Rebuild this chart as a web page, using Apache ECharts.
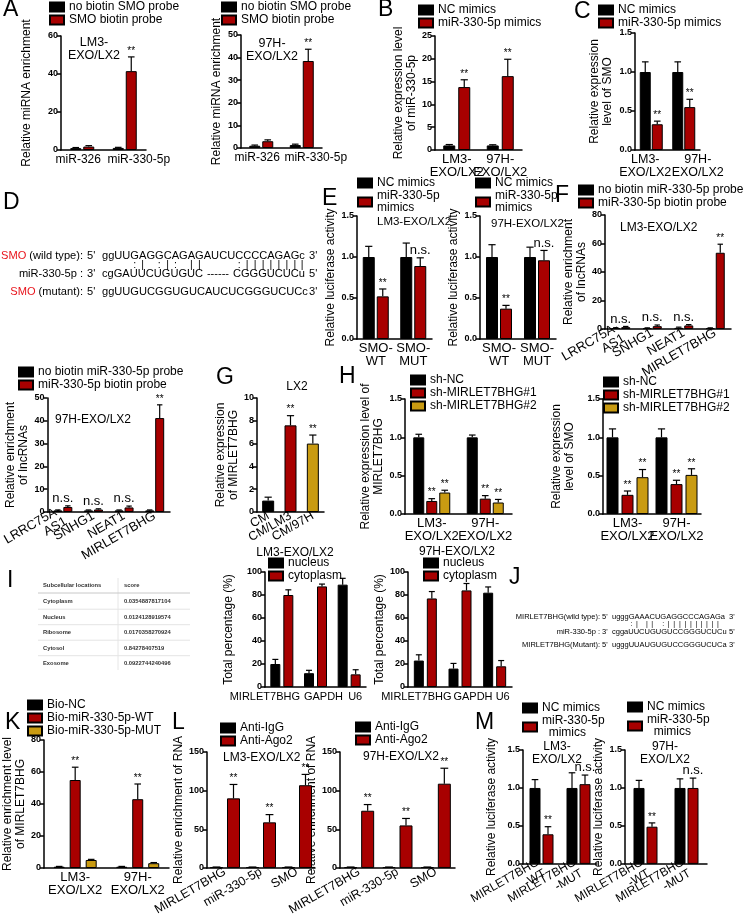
<!DOCTYPE html>
<html><head><meta charset="utf-8">
<script src="https://cdn.jsdelivr.net/npm/echarts@6/dist/echarts.min.js"></script>
<style>html,body{margin:0;padding:0;background:#fff}#c{width:745px;height:918px}</style>
</head><body><div id="c"></div>
<script>
// ---------------- DATA ----------------
// Panel A
const aCategories = ['miR-326', 'miR-330-5p'];
const aTicksLM3 = [0, 20, 40, 60];
const aLM3NoBiotin = [1.0, 1.1];
const aLM3NoBiotinErr = [0.3, 0.3];
const aLM3Probe = [1.8, 41.5];
const aLM3ProbeErr = [0.5, 7.5];
const aLM3Sig = ['', '**'];
const aTicks97H = [0, 10, 20, 30, 40, 50];
const a97HNoBiotin = [1.0, 1.3];
const a97HNoBiotinErr = [0.3, 0.4];
const a97HProbe = [3.0, 38.5];
const a97HProbeErr = [0.6, 5.2];
const a97HSig = ['', '**'];
// Panel B
const cellCategories = ['LM3-\nEXO/LX2', '97H-\nEXO/LX2'];
const bTicks = [0, 5, 10, 15, 20, 25];
const bNC = [1.0, 1.0];
const bNCErr = [0.2, 0.15];
const bMimics = [13.8, 16.2];
const bMimicsErr = [1.6, 3.7];
const bSig = ['**', '**'];
// Panel C
const unitTicks = [0, 0.5, 1.0, 1.5];
const cNC = [1.0, 1.0];
const cNCErr = [0.13, 0.13];
const cMimics = [0.33, 0.55];
const cMimicsErr = [0.04, 0.1];
const cSig = ['**', '**'];
// Panel E
const eCategories = ['SMO-\nWT', 'SMO-\nMUT'];
const eLM3NC = [1.0, 1.0];
const eLM3NCErr = [0.13, 0.17];
const eLM3Mimics = [0.52, 0.89];
const eLM3MimicsErr = [0.09, 0.1];
const eLM3Sig = ['**', 'n.s.'];
const e97HNC = [1.0, 1.0];
const e97HNCErr = [0.15, 0.12];
const e97HMimics = [0.37, 0.96];
const e97HMimicsErr = [0.04, 0.12];
const e97HSig = ['**', 'n.s.'];
// Panel F + lower lncRNA panel
const lncCategories = ['LRRC75A-\nAS1', 'SNHG1', 'NEAT1', 'MIRLET7BHG'];
const fTicks = [0, 20, 40, 60, 80];
const fNoBiotin = [0.7, 0.6, 0.8, 0.6];
const fNoBiotinErr = [0.2, 0.2, 0.5, 0.2];
const fProbe = [1.3, 2.0, 2.5, 53.5];
const fProbeErr = [0.5, 0.8, 0.6, 6.0];
const fSig = ['n.s.', 'n.s.', 'n.s.', '**'];
const f2Ticks = [0, 10, 20, 30, 40, 50];
const f2NoBiotin = [0.7, 0.7, 0.7, 0.7];
const f2NoBiotinErr = [0.2, 0.2, 0.2, 0.2];
const f2Probe = [2.2, 1.1, 2.0, 41.2];
const f2ProbeErr = [0.5, 0.3, 0.6, 5.8];
const f2Sig = ['n.s.', 'n.s.', 'n.s.', '**'];
// Panel G
const gCategories = ['CM', 'CM/LM3', 'CM/97H'];
const gTicks = [0, 2, 4, 6, 8, 10];
const gValues = [1.0, 7.6, 6.0];
const gErr = [0.3, 0.85, 0.75];
const gSig = ['', '**', '**'];
// Panel H
const hNC = [1.0, 1.0];
const hNCErr = [0.04, 0.03];
const hSh1 = [0.17, 0.20];
const hSh1Err = [0.03, 0.04];
const hSh2 = [0.28, 0.15];
const hSh2Err = [0.03, 0.04];
const hSig = ['**', '**'];
const hSmoNC = [1.0, 1.0];
const hSmoNCErr = [0.11, 0.11];
const hSmoSh1 = [0.25, 0.39];
const hSmoSh1Err = [0.05, 0.05];
const hSmoSh2 = [0.48, 0.51];
const hSmoSh2Err = [0.1, 0.08];
// Panel I
const iCategories = ['MIRLET7BHG', 'GAPDH', 'U6'];
const iTicks = [0, 20, 40, 60, 80, 100];
const iLM3Nucleus = [20, 12, 89];
const iLM3NucleusErr = [4, 2.5, 5.5];
const iLM3Cytoplasm = [80, 87.5, 11];
const iLM3CytoplasmErr = [4.5, 2, 4];
const i97HNucleus = [23, 16, 82];
const i97HNucleusErr = [5, 4.5, 5];
const i97HCytoplasm = [77, 84, 18];
const i97HCytoplasmErr = [6, 6, 5];
const iTableHeader = ['Subcellular locations', 'score'];
const iTableLocations = ['Cytoplasm', 'Nucleus', 'Ribosome', 'Cytosol', 'Exosome'];
const iTableScores = ['0.0354887817104', '0.0124128919574', '0.0170358270924', '0.84278407519', '0.0922744240496'];
// Panel K
const kTicks = [0, 20, 40, 60, 80];
const kBioNC = [0.8, 0.8];
const kBioNCErr = [0.2, 0.2];
const kBioWT = [55, 43];
const kBioWTErr = [8, 9.5];
const kBioMUT = [5, 3];
const kBioMUTErr = [0.4, 0.4];
const kSig = ['**', '**'];
// Panel L
const lCategories = ['MIRLET7BHG', 'miR-330-5p', 'SMO'];
const lTicks = [0, 50, 100, 150];
const lLM3IgG = [1, 1, 1];
const lLM3IgGErr = [0.2, 0.2, 0.2];
const lLM3Ago2 = [90, 59, 107];
const lLM3Ago2Err = [18, 10, 14];
const l97HIgG = [1, 1, 1];
const l97HIgGErr = [0.2, 0.2, 0.2];
const l97HAgo2 = [74, 55, 109];
const l97HAgo2Err = [8, 9, 20];
const lSig = ['**', '**', '**'];
// Panel M
const mCategories = ['MIRLET7BHG\n-WT', 'MIRLET7BHG\n-MUT'];
const mLM3NC = [1.0, 1.0];
const mLM3NCErr = [0.11, 0.2];
const mLM3Mimics = [0.39, 1.05];
const mLM3MimicsErr = [0.1, 0.12];
const m97HNC = [1.0, 1.0];
const m97HNCErr = [0.1, 0.12];
const m97HMimics = [0.49, 1.0];
const m97HMimicsErr = [0.05, 0.13];
const mSig = ['**', 'n.s.'];
// Panels D and J (sequence text)
const dWildType = 'ggUUGAGGCAGAGAUCUCCCCAGAGc';
const dMirLeft = 'cgGAUUCUGUGUC';
const dMirGap = '------';
const dMirRight = 'CGGGUCUCu';
const dMutant = 'ggUUGUCGGUGUCAUCUCGGGUCUCc';
const dPairs = {4: ':', 5: '|', 7: ':', 8: '|', 9: ':', 11: '|', 12: '|', 17: ':', 18: '|', 19: '|', 20: '|', 21: '|', 22: '|', 23: '|', 24: '|', 25: '|'};
const jWildType = 'ugggGAAACUGAGGCCCAGAGa';
const jMir = 'cggaUUCUGUGUCCGGGUCUCu';
const jMutant = 'ugggUUAUGUGUCCGGGUCUCa';
const jPairs = {4: ':', 5: '|', 7: '|', 8: '|', 10: ':', 11: '|', 12: '|', 13: '|', 14: '|', 15: '|', 16: '|', 17: '|', 18: '|', 19: '|', 20: '|'};

// ---------------- STYLE ----------------
const FONT = '"Liberation Sans", Arial, sans-serif';
const BLACK = '#000000', RED = '#a80000', GOLD = '#c99b12';

const panels = [
  {L: 61, R: 146, T: 36, B: 150, cats: aCategories, ticks: aTicksLM3, yname: 'Relative miRNA enrichment', ngap: 28, bw: 11, gap: 2, xfs: 12, shift: [-4, 14], legend: [49, 1],
   series: [{name: 'no biotin SMO probe', vals: aLM3NoBiotin, errs: aLM3NoBiotinErr, color: BLACK},
            {name: 'SMO biotin probe', vals: aLM3Probe, errs: aLM3ProbeErr, sigs: aLM3Sig, color: RED}]},
  {L: 241, R: 322, T: 35, B: 148, cats: aCategories, ticks: aTicks97H, yname: 'Relative miRNA enrichment', ngap: 18, bw: 11, gap: 2, xfs: 12, shift: [-4, 14], legend: [221, 1],
   series: [{name: 'no biotin SMO probe', vals: a97HNoBiotin, errs: a97HNoBiotinErr, color: BLACK},
            {name: 'SMO biotin probe', vals: a97HProbe, errs: a97HProbeErr, sigs: a97HSig, color: RED}]},
  {L: 435, R: 522, T: 36, B: 150, cats: cellCategories, ticks: bTicks, yname: 'Relative expression level\nof miR-330-5p', ngap: 16, bw: 12, gap: 3, legend: [418, 4],
   series: [{name: 'NC mimics', vals: bNC, errs: bNCErr, color: BLACK},
            {name: 'miR-330-5p mimics', vals: bMimics, errs: bMimicsErr, sigs: bSig, color: RED}]},
  {L: 635, R: 700, T: 33, B: 150, cats: cellCategories, ticks: unitTicks, dec: 1, yname: 'Relative expression\nlevel of SMO', ngap: 21, bw: 11, gap: 1, xfs: 12.5, shift: [-6, 14], legend: [598, 4],
   series: [{name: 'NC mimics', vals: cNC, errs: cNCErr, color: BLACK},
            {name: 'miR-330-5p mimics', vals: cMimics, errs: cMimicsErr, sigs: cSig, color: RED}]},
  {L: 357, R: 432, T: 216, B: 339, cats: eCategories, ticks: unitTicks, dec: 1, yname: 'Relative luciferase activity', ngap: 8, bw: 12, gap: 2, legend: [357, 177],
   series: [{name: 'NC mimics', vals: eLM3NC, errs: eLM3NCErr, color: BLACK},
            {name: 'miR-330-5p\nmimics', vals: eLM3Mimics, errs: eLM3MimicsErr, sigs: eLM3Sig, color: RED}]},
  {L: 480, R: 556, T: 216, B: 339, cats: eCategories, ticks: unitTicks, dec: 1, yname: 'Relative luciferase activity', ngap: 10, bw: 12, gap: 2, legend: [475, 177],
   series: [{name: 'NC mimics', vals: e97HNC, errs: e97HNCErr, color: BLACK},
            {name: 'miR-330-5p\nmimics', vals: e97HMimics, errs: e97HMimicsErr, sigs: e97HSig, color: RED}]},
  {L: 605, R: 731, T: 215, B: 329, cats: lncCategories, ticks: fTicks, yname: 'Relative enrichment\nof lncRNAs', ngap: 14, bw: 9, gap: 1, rot: 30, xfs: 13, nsCenter: true, legend: [578, 184],
   series: [{name: 'no biotin miR-330-5p probe', vals: fNoBiotin, errs: fNoBiotinErr, color: BLACK},
            {name: 'miR-330-5p biotin probe', vals: fProbe, errs: fProbeErr, sigs: fSig, color: RED}]},
  {L: 42, R: 170, T: 398, B: 512, cats: lncCategories, ticks: f2Ticks, yname: 'Relative enrichment\nof lncRNAs', ngap: 16, bw: 9, gap: 1, rot: 30, xfs: 13, nsCenter: true, legend: [18, 366],
   series: [{name: 'no biotin miR-330-5p probe', vals: f2NoBiotin, errs: f2NoBiotinErr, color: BLACK},
            {name: 'miR-330-5p biotin probe', vals: f2Probe, errs: f2ProbeErr, sigs: f2Sig, color: RED}]},
  {L: 257, R: 324, T: 398, B: 512, cats: gCategories, ticks: gTicks, yname: 'Relative expression\nof MIRLET7BHG', ngap: 11, bw: 12, gap: 0, rot: 30, xfs: 12.5,
   series: [{name: 'LX2', vals: gValues, errs: gErr, sigs: gSig, color: BLACK, colors: [BLACK, RED, GOLD]}]},
  {L: 405, R: 512, T: 399, B: 514, cats: cellCategories, ticks: unitTicks, dec: 1, yname: 'Relative expression level of\nMIRLET7BHG', ngap: 17, bw: 11, gap: 2, legend: [410, 374],
   series: [{name: 'sh-NC', vals: hNC, errs: hNCErr, color: BLACK},
            {name: 'sh-MIRLET7BHG#1', vals: hSh1, errs: hSh1Err, sigs: hSig, color: RED},
            {name: 'sh-MIRLET7BHG#2', vals: hSh2, errs: hSh2Err, sigs: hSig, color: GOLD}]},
  {L: 603, R: 701, T: 399, B: 514, cats: cellCategories, ticks: unitTicks, dec: 1, yname: 'Relative expression\nlevel of SMO', ngap: 27, bw: 12, gap: 3, legend: [603, 376],
   series: [{name: 'sh-NC', vals: hSmoNC, errs: hSmoNCErr, color: BLACK},
            {name: 'sh-MIRLET7BHG#1', vals: hSmoSh1, errs: hSmoSh1Err, sigs: hSig, color: RED},
            {name: 'sh-MIRLET7BHG#2', vals: hSmoSh2, errs: hSmoSh2Err, sigs: hSig, color: GOLD}]},
  {L: 265, R: 366, T: 572, B: 687, cats: iCategories, ticks: iTicks, yname: 'Total percentage (%)', ngap: 30, bw: 10, gap: 3, xfs: 11, shift: [-17, 8, 6], legend: [268, 557],
   series: [{name: 'nucleus', vals: iLM3Nucleus, errs: iLM3NucleusErr, color: BLACK},
            {name: 'cytoplasm', vals: iLM3Cytoplasm, errs: iLM3CytoplasmErr, color: RED}]},
  {L: 408, R: 512, T: 572, B: 687, cats: iCategories, ticks: iTicks, yname: 'Total percentage (%)', ngap: 18, bw: 10, gap: 3, xfs: 11, shift: [-9, 13, 8], legend: [423, 557],
   series: [{name: 'nucleus', vals: i97HNucleus, errs: i97HNucleusErr, color: BLACK},
            {name: 'cytoplasm', vals: i97HCytoplasm, errs: i97HCytoplasmErr, color: RED}]},
  {L: 43, R: 169, T: 740, B: 868, cats: cellCategories, ticks: kTicks, yname: 'Relative enrichment level\nof MIRLET7BHG', ngap: 15, bw: 11, gap: 5, legend: [27, 699],
   series: [{name: 'Bio-NC', vals: kBioNC, errs: kBioNCErr, color: BLACK},
            {name: 'Bio-miR-330-5p-WT', vals: kBioWT, errs: kBioWTErr, sigs: kSig, color: RED},
            {name: 'Bio-miR-330-5p-MUT', vals: kBioMUT, errs: kBioMUTErr, color: GOLD}]},
  {L: 207, R: 315, T: 752, B: 868, cats: lCategories, ticks: lTicks, yname: 'Relative enrichment of RNA', ngap: 7, bw: 13, gap: 4, rot: 30, xfs: 12.5, legend: [220, 722],
   series: [{name: 'Anti-IgG', vals: lLM3IgG, errs: lLM3IgGErr, color: BLACK},
            {name: 'Anti-Ago2', vals: lLM3Ago2, errs: lLM3Ago2Err, sigs: lSig, color: RED}]},
  {L: 340, R: 455, T: 752, B: 868, cats: lCategories, ticks: lTicks, yname: 'Relative enrichment of RNA', ngap: 3, bw: 13, gap: 4, rot: 30, xfs: 12.5, legend: [355, 721],
   series: [{name: 'Anti-IgG', vals: l97HIgG, errs: l97HIgGErr, color: BLACK},
            {name: 'Anti-Ago2', vals: l97HAgo2, errs: l97HAgo2Err, sigs: lSig, color: RED}]},
  {L: 523, R: 597, T: 750, B: 865, cats: mCategories, ticks: unitTicks, dec: 1, yname: 'Relative luciferase activity', ngap: 25, bw: 11, gap: 2, rot: 30, xfs: 12, indentLegend: true, legend: [522, 702],
   series: [{name: 'NC mimics', vals: mLM3NC, errs: mLM3NCErr, color: BLACK},
            {name: 'miR-330-5p\nmimics', vals: mLM3Mimics, errs: mLM3MimicsErr, sigs: mSig, color: RED}]},
  {L: 625, R: 707, T: 750, B: 866, cats: mCategories, ticks: unitTicks, dec: 1, yname: 'Relative luciferase activity', ngap: 8, bw: 11, gap: 2, rot: 30, xfs: 12, indentLegend: true, legend: [627, 701],
   series: [{name: 'NC mimics', vals: m97HNC, errs: m97HNCErr, color: BLACK},
            {name: 'miR-330-5p\nmimics', vals: m97HMimics, errs: m97HMimicsErr, sigs: mSig, color: RED}]}
];

function makeErr(s, k, n, p) {
  return function (params, api) {
    const i = params.dataIndex;
    const v = s.vals[i], e = s.errs[i];
    const p0 = api.coord([i, v]);
    const p1 = api.coord([i, v + e]);
    const total = n * p.bw + (n - 1) * p.gap;
    const x = p0[0] - total / 2 + p.bw / 2 + k * (p.bw + p.gap);
    const cw = Math.max(5, p.bw * 0.6);
    const ls = {stroke: '#000', lineWidth: 1.2};
    const ch = [
      {type: 'line', shape: {x1: x, y1: p0[1], x2: x, y2: p1[1]}, style: ls},
      {type: 'line', shape: {x1: x - cw / 2, y1: p1[1], x2: x + cw / 2, y2: p1[1]}, style: ls}
    ];
    const sig = s.sigs ? s.sigs[i] : '';
    if (sig) {
      const isNs = sig === 'n.s.';
      const tx = isNs && p.nsCenter ? x - (p.bw + p.gap) / 2 : x;
      ch.push({type: 'text', style: {text: sig, x: tx, y: p1[1] - 1, align: 'center', textAlign: 'center',
        verticalAlign: 'bottom', textVerticalAlign: 'bottom', fontSize: isNs ? 13 : 10, fontFamily: FONT, fill: '#000'}});
    }
    return {type: 'group', children: ch};
  };
}

const grid = [], xAxis = [], yAxis = [], series = [], legend = [];
panels.forEach((p, gi) => {
  grid.push({left: p.L, top: p.T, width: p.R - p.L, height: p.B - p.T});
  const fs = p.xfs || 13;
  const xl = {interval: 0, rotate: p.rot || 0, margin: 3, color: '#000', fontSize: fs, fontFamily: FONT, lineHeight: 13};
  if (p.shift) {
    // shift individual category labels sideways with an invisible spacer token
    xl.formatter = (v, idx) => {
      const d = p.shift[idx] || 0;
      return v.split('\n').map(l => d > 0 ? '{s' + idx + '|\u00a0}{t|' + l + '}' : (d < 0 ? '{t|' + l + '}{s' + idx + '|\u00a0}' : '{t|' + l + '}')).join('\n');
    };
    xl.rich = {t: {fontSize: fs, fontFamily: FONT, color: '#000', lineHeight: 13}};
    p.shift.forEach((d, idx) => { xl.rich['s' + idx] = {width: Math.abs(d) * 2, fontSize: fs, lineHeight: 13}; });
  }
  xAxis.push({type: 'category', gridIndex: gi, data: p.cats,
    axisLine: {lineStyle: {color: '#000', width: 1.5}}, axisTick: {show: false}, axisLabel: xl});
  const t = p.ticks;
  yAxis.push({type: 'value', gridIndex: gi, min: t[0], max: t[t.length - 1], interval: t[1] - t[0],
    splitLine: {show: false},
    axisLine: {show: true, lineStyle: {color: '#000', width: 1.5}},
    axisTick: {show: true, length: 4, lineStyle: {color: '#000', width: 1.5}},
    axisLabel: {color: '#000', fontSize: 9, fontWeight: 'bold', fontFamily: FONT, margin: 3,
      formatter: v => p.dec ? v.toFixed(p.dec) : String(v)},
    name: p.yname, nameLocation: 'middle', nameGap: p.ngap,
    nameTextStyle: {color: '#000', fontSize: 12, fontFamily: FONT, lineHeight: 13}});
  const n = p.series.length;
  p.series.forEach((s, k) => {
    series.push({type: 'bar', name: s.name, xAxisIndex: gi, yAxisIndex: gi, barWidth: p.bw,
      barGap: (p.gap / p.bw * 100) + '%', silent: true, z: 2,
      itemStyle: {color: s.color, borderColor: '#000', borderWidth: 1},
      data: s.colors ? s.vals.map((v, i) => ({value: v, itemStyle: {color: s.colors[i]}})) : s.vals});
    series.push({type: 'custom', xAxisIndex: gi, yAxisIndex: gi, silent: true, z: 3,
      data: s.vals.map((v, i) => [i, v]), encode: {x: 0, y: 1}, renderItem: makeErr(s, k, n, p)});
  });
  if (p.legend) {
    const lg = {left: p.legend[0], top: p.legend[1], orient: 'vertical', padding: 0, itemGap: 1,
      itemWidth: 14, itemHeight: 9, icon: 'rect', selectedMode: false,
      data: p.series.map(s => s.name),
      textStyle: {fontSize: 12, fontFamily: FONT, color: '#000', lineHeight: 12}};
    if (p.indentLegend) lg.formatter = nm => nm.replace('\n', '\n  ');
    legend.push(lg);
  }
});

// ---------------- TEXT GRAPHICS ----------------
const graphic = [];
function txt(x, y, text, o) {
  o = o || {};
  graphic.push({type: 'text', x: x, y: y, silent: true, style: Object.assign({
    text: text, fontSize: o.fs || 12, fontFamily: FONT, fontWeight: o.fw || 'normal', fill: o.fill || '#000',
    align: o.align || 'left', textAlign: o.align || 'left',
    verticalAlign: 'middle', textVerticalAlign: 'middle', lineHeight: o.lh || 13
  }, o.rich ? {rich: o.rich} : {})});
}
function line(x1, y1, x2, y2, c, w) {
  graphic.push({type: 'line', silent: true, shape: {x1, y1, x2, y2}, style: {stroke: c, lineWidth: w || 1}});
}
// panel letters
[['A', 3, 10], ['B', 378, 10], ['C', 574, 12], ['D', 3, 203], ['E', 322, 199], ['F', 555, 196],
 ['G', 216, 378], ['H', 339, 377], ['I', 7, 581], ['J', 509, 578], ['K', 5, 723], ['L', 172, 723], ['M', 475, 723]]
  .forEach(l => txt(l[1], l[2], l[0], {fs: 23}));
// in-plot titles
txt(94, 49, 'LM3-\nEXO/LX2', {align: 'center', fs: 12.5});
txt(272, 50, '97H-\nEXO/LX2', {align: 'center', fs: 12.5});
txt(377, 222, 'LM3-EXO/LX2', {fs: 11.5});
txt(491, 224, '97H-EXO/LX2', {fs: 11.5});
txt(620, 228, 'LM3-EXO/LX2', {fs: 12});
txt(55, 420, '97H-EXO/LX2', {fs: 12});
txt(297, 387, 'LX2', {align: 'center', fs: 12});
txt(295, 553, 'LM3-EXO/LX2', {align: 'center', fs: 12});
txt(457, 552, '97H-EXO/LX2', {align: 'center', fs: 12});
txt(223, 758, 'LM3-EXO/LX2', {fs: 12});
txt(363, 757, '97H-EXO/LX2', {fs: 12});
txt(557, 753, 'LM3-\nEXO/LX2', {align: 'center', fs: 12});
txt(665, 753, '97H-\nEXO/LX2', {align: 'center', fs: 12});

// sequence panels
const mctx = document.createElement('canvas').getContext('2d');
function tw(t, px) { mctx.font = px + 'px "Liberation Sans"'; return mctx.measureText(t).width; }
function seqBlock(cfg) {
  const fs = 12 * cfg.width / tw(cfg.wt, 12);
  const red = {r: {fill: '#e8141c', fontSize: fs, fontFamily: FONT}};
  cfg.labels.forEach((lb, r) => {
    txt(cfg.labelRight, cfg.rows[r], lb, {fs: fs, align: 'right', rich: red});
  });
  txt(cfg.primeX, cfg.rows[0], "5'", {fs: fs});
  txt(cfg.primeX, cfg.rows[1], "3'", {fs: fs});
  txt(cfg.primeX, cfg.rows[2], "5'", {fs: fs});
  const endX = cfg.start + cfg.width + 4;
  txt(endX, cfg.rows[0], "3'", {fs: fs});
  txt(endX, cfg.rows[1], "5'", {fs: fs});
  txt(endX, cfg.rows[2], "3'", {fs: fs});
  txt(cfg.start, cfg.rows[0], cfg.wt, {fs: fs});
  cfg.drawMir(fs);
  txt(cfg.start, cfg.rows[2], cfg.mut, {fs: fs});
  Object.keys(cfg.pairs).forEach(k => {
    const i = +k;
    const cx = cfg.start + tw(cfg.wt.slice(0, i), fs) + tw(cfg.wt[i], fs) / 2;
    txt(cx, cfg.markY, cfg.pairs[k], {fs: fs * 0.95, align: 'center'});
  });
}
seqBlock({wt: dWildType, mut: dMutant, pairs: dPairs, width: 203, start: 102, labelRight: 83, primeX: 87,
  rows: [256, 274, 292], markY: 265,
  labels: ['{r|SMO} (wild type):', 'miR-330-5p :', '{r|SMO} (mutant):'],
  drawMir: fs => {
    txt(102, 274, dMirLeft, {fs: fs});
    txt(305, 274, dMirRight, {fs: fs, align: 'right'});
    const a = 102 + tw(dMirLeft, fs), b = 305 - tw(dMirRight, fs);
    txt((a + b) / 2, 274, dMirGap, {fs: fs, align: 'center'});
  }});
seqBlock({wt: jWildType, mut: jMutant, pairs: jPairs, width: 113, start: 612, labelRight: 600, primeX: 602,
  rows: [617, 632, 645], markY: 624.5,
  labels: ['MIRLET7BHG(wild type):', 'miR-330-5p :', 'MIRLET7BHG(Mutant):'],
  drawMir: fs => txt(612, 632, jMir, {fs: fs})});

// table (panel I)
const tTop = 585, tStep = 15.5;
line(118, 578, 118, 670, '#e6e6e6', 1);
line(38, 593, 190, 593, '#c8c8c8', 1);
txt(43, tTop, iTableHeader[0], {fs: 5.8, fw: 'bold', fill: '#333'});
txt(124, tTop, iTableHeader[1], {fs: 5.8, fw: 'bold', fill: '#333'});
iTableLocations.forEach((loc, r) => {
  const y = 601.5 + r * tStep;
  txt(43, y, loc, {fs: 5.8, fw: 'bold', fill: '#333'});
  txt(124, y, iTableScores[r], {fs: 5.8, fw: 'bold', fill: '#333'});
  if (r < iTableLocations.length - 1) line(38, y + 7.7, 190, y + 7.7, '#e4e4e4', 1);
});

const chart = echarts.init(document.getElementById('c'), null, {renderer: 'canvas'});
chart.setOption({animation: false, backgroundColor: '#fff', grid, xAxis, yAxis, series, legend, graphic});
</script></body></html>
